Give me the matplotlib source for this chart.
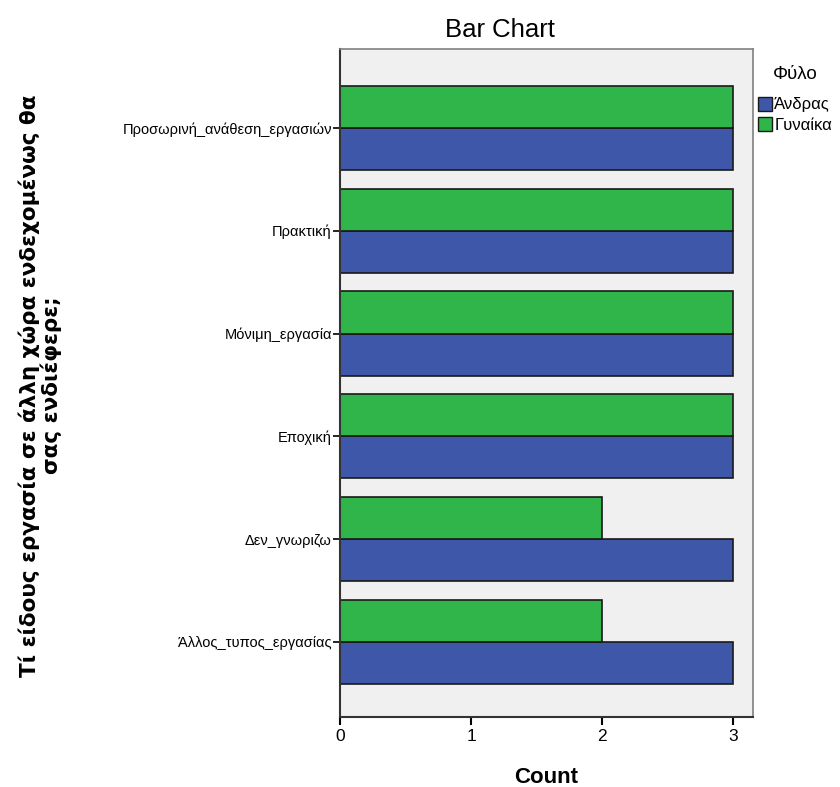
import matplotlib.pyplot as plt
import numpy as np
from matplotlib.patches import Patch

categories = ["Προσωρινή_ανάθεση_εργασιών", "Πρακτική", "Μόνιμη_εργασία",
              "Εποχική", "Δεν_γνωριζω", "Άλλος_τυπος_εργασίας"]
andras = [3, 3, 3, 3, 3, 3]
gynaika = [3, 3, 3, 3, 2, 2]
legend_labels = ["Άνδρας", "Γυναίκα"]

BLUE = "#3f57a9"
GREEN = "#30b54a"

plt.rcParams["font.family"] = ["Liberation Sans", "DejaVu Sans"]

fig = plt.figure(figsize=(8.4, 7.87), dpi=100)
ax = fig.add_axes([0.405, 0.089, 0.491, 0.849])
ax.set_facecolor("#f0f0f0")

y = np.arange(len(categories))
h = 0.41
ax.barh(y + h / 2, andras, height=h, color=BLUE, edgecolor="#1a1a1a", linewidth=1.2)
ax.barh(y - h / 2, gynaika, height=h, color=GREEN, edgecolor="#1a1a1a", linewidth=1.2)

ax.set_ylim(len(categories) - 1 + 0.73, -0.77)
ax.set_xlim(0, 3.15)
ax.set_yticks(y)
ax.set_yticklabels(categories, fontsize=10.5)
ax.set_xticks([0, 1, 2, 3])
ax.tick_params(axis="x", labelsize=12.5, length=6, width=1.5, direction="out", pad=3)
ax.tick_params(axis="y", length=5, width=1.2, direction="out", pad=1)

for s in ["top", "right"]:
    ax.spines[s].set_color("#808080")
    ax.spines[s].set_linewidth(1.2)
for s in ["left", "bottom"]:
    ax.spines[s].set_color("#333333")
    ax.spines[s].set_linewidth(1.5)

fig.text(0.595, 0.962, "Bar Chart", ha="center", va="center", fontsize=18.5)
fig.text(0.65, 0.005, "Count", ha="center", va="baseline", fontsize=16,
         fontweight="bold")
fig.text(0.048, 0.51, "Τί είδους εργασία σε άλλη χώρα ενδεχομένως θα\nσας ενδιέφερε;",
         rotation=90, ha="center", va="center", fontsize=15.5, fontweight="bold",
         family="DejaVu Sans", multialignment="center", linespacing=1.0)

handles = [Patch(facecolor=BLUE, edgecolor="#1a1a1a"),
           Patch(facecolor=GREEN, edgecolor="#1a1a1a")]
leg = fig.legend(handles, legend_labels, title="Φύλο", loc="upper left",
                 bbox_to_anchor=(0.894, 0.925), frameon=False, fontsize=12,
                 title_fontsize=13.5, handlelength=0.85, handleheight=0.95,
                 handletextpad=0.15, labelspacing=0.25, borderaxespad=0)
leg._legend_box.sep = 10

fig.savefig("out.png", dpi=100)
